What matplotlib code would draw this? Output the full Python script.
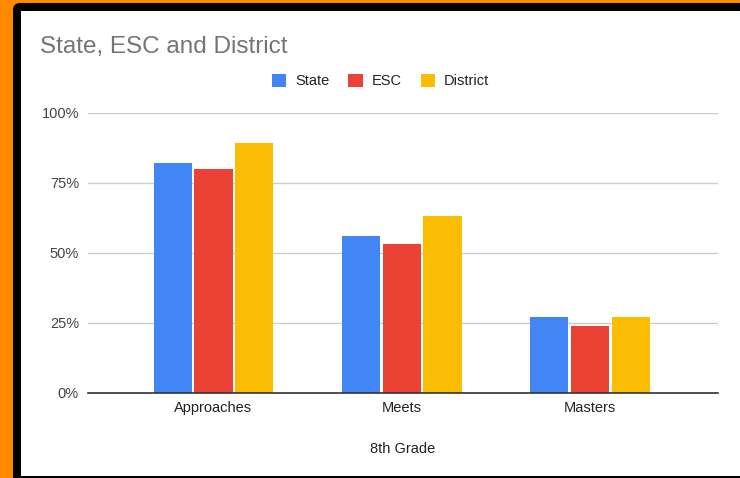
import matplotlib
matplotlib.use("Agg")
import matplotlib.pyplot as plt
import numpy as np
from matplotlib.patches import FancyBboxPatch, Rectangle, Patch
from matplotlib.transforms import IdentityTransform

# chart data
categories = ["Approaches", "Meets", "Masters"]
series_names = ["State", "ESC", "District"]
state = [0.82, 0.56, 0.27]
esc = [0.80, 0.53, 0.24]
district = [0.89, 0.63, 0.27]
y_ticks = [0, 0.25, 0.5, 0.75, 1.0]
y_tick_labels = ["0%", "25%", "50%", "75%", "100%"]

colors = ["#4285F4", "#EA4335", "#FBBC04"]

plt.rcParams["font.family"] = ["Liberation Sans", "DejaVu Sans"]

W, H = 740, 478
fig = plt.figure(figsize=(W / 100, H / 100), dpi=100)
fig.patch.set_facecolor("#FF8A00")

# black frame and white panel (pixel coordinates), kept behind the axes
ident = IdentityTransform()
frame = FancyBboxPatch((13, -20), 760, H - 3 + 20,
                       boxstyle="round,pad=0,rounding_size=7",
                       facecolor="black", edgecolor="none", transform=ident,
                       zorder=-2)
panel = Rectangle((21, 2), 760, H - 10.5 - 2,
                  facecolor="white", edgecolor="none", transform=ident,
                  zorder=-1)
fig.patches.extend([frame, panel])

ax = fig.add_axes([88 / W, (H - 393) / H, (718 - 88) / W, (393 - 112.6) / H])
ax.set_facecolor("none")

x = np.arange(len(categories))
bw = 0.2034
off = 0.2167
for i, (vals, name) in enumerate(zip([state, esc, district], series_names)):
    ax.bar(x + (i - 1) * off, vals, width=bw, color=colors[i], label=name, zorder=3)

ax.set_xlim(-0.6665, 2.679)
ax.set_ylim(0, 1)
ax.set_yticks(y_ticks)
ax.set_yticklabels(y_tick_labels)
ax.set_xticks(x)
ax.set_xticklabels(categories)
ax.tick_params(axis="y", length=0, pad=6.5, labelsize=10.5, labelcolor="#444444")
ax.tick_params(axis="x", length=0, pad=6, labelsize=10.5, labelcolor="#222222")
ax.grid(axis="y", color="#cccccc", linewidth=1, zorder=0)
for s in ["top", "right", "left"]:
    ax.spines[s].set_visible(False)
ax.spines["bottom"].set_color("#333333")
ax.spines["bottom"].set_linewidth(1.2)
ax.spines["bottom"].set_zorder(4)
ax.set_xlabel("8th Grade", fontsize=10.5, color="#222222", labelpad=19)

fig.text(40 / W, (H - 53) / H, "State, ESC and District", fontsize=17.5,
         color="#757575", va="baseline", ha="left")

handles = [Patch(facecolor=c, edgecolor="none") for c in colors]
fig.legend(handles, series_names, loc="center", ncol=3, frameon=False,
           bbox_to_anchor=(380.5 / W, 1 - 81 / H), fontsize=10.5,
           handlelength=1.0, handleheight=1.0, handletextpad=0.6,
           columnspacing=1.3, borderpad=0, labelcolor="#222222")

fig.savefig("out.png", dpi=100, facecolor=fig.get_facecolor())
